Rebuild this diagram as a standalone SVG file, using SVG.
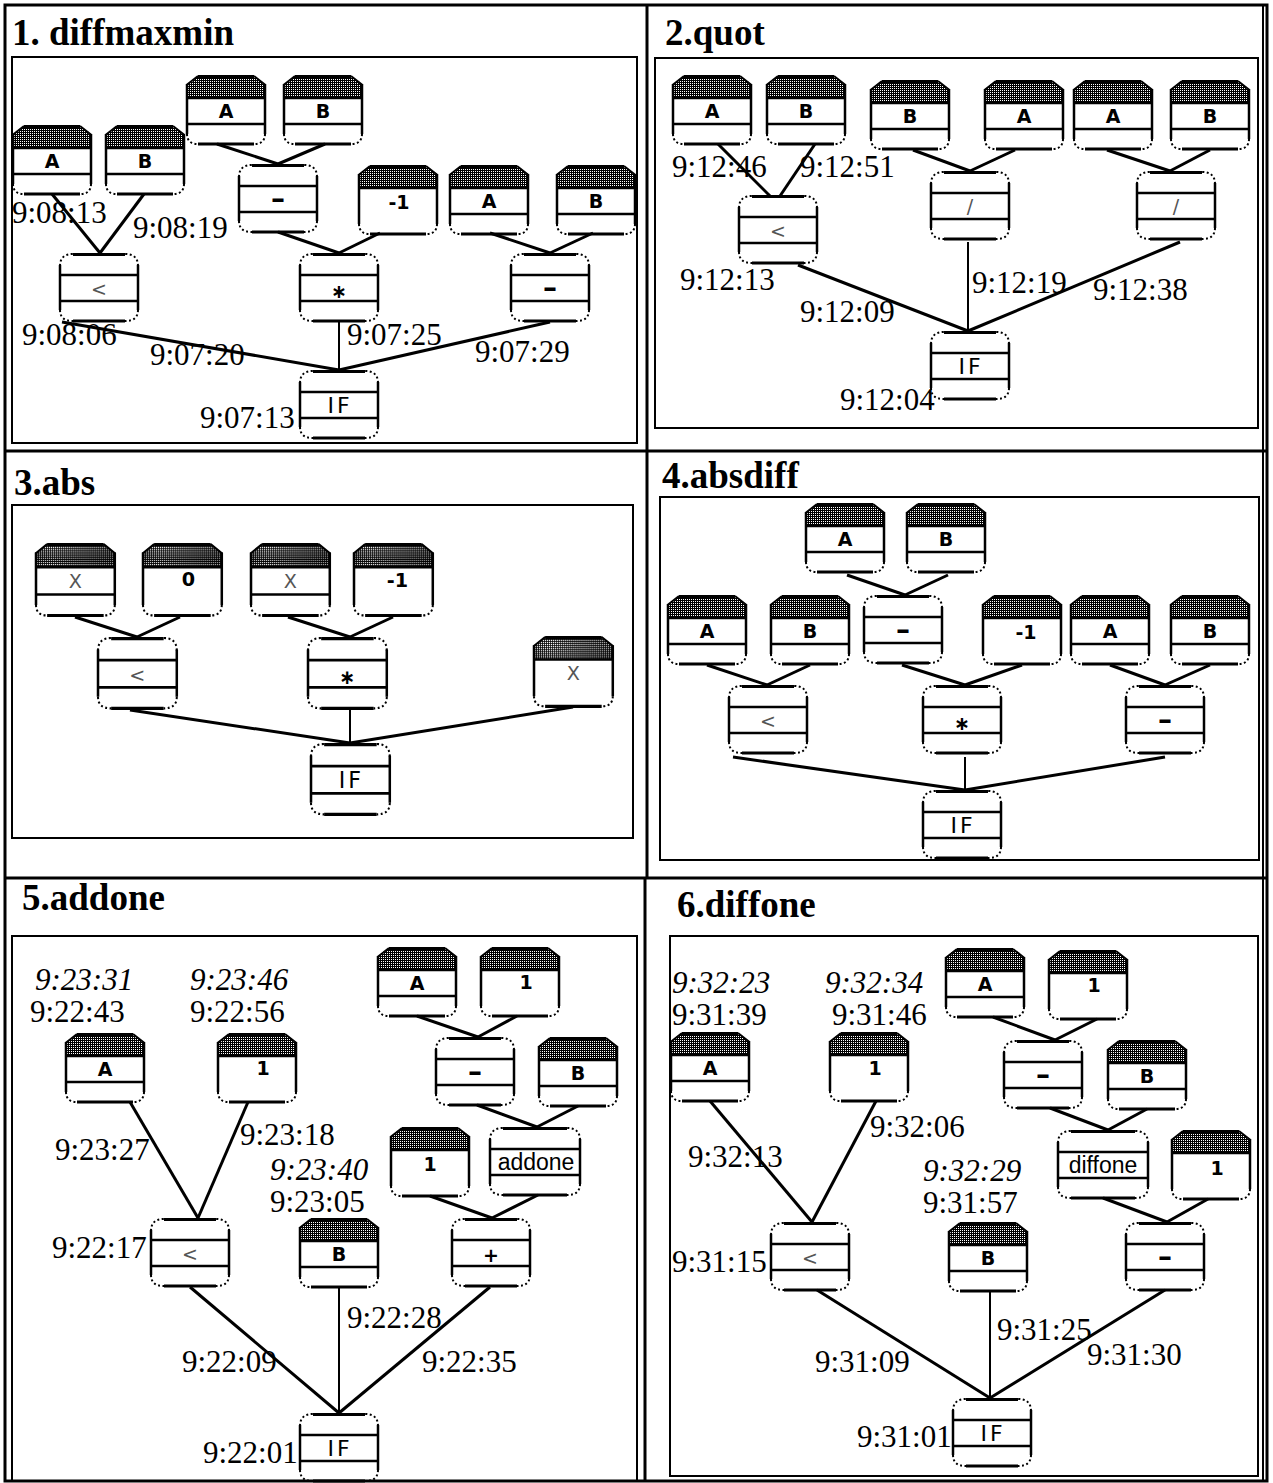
<svg xmlns="http://www.w3.org/2000/svg" xmlns:xlink="http://www.w3.org/1999/xlink" width="1273" height="1483" viewBox="0 0 1273 1483">
<style>
.s{stroke:#000;fill:none}
.c{stroke:#000;stroke-width:3;fill:none}
.cv{stroke:#000;stroke-width:2;fill:none}
.ts{font-family:"Liberation Serif",serif;font-size:31px;fill:#000}
.it{font-style:italic}
.ttl{font-family:"Liberation Serif",serif;font-weight:bold;font-size:37px;fill:#000}
.nl{font-family:"DejaVu Sans",sans-serif;font-size:19px;font-weight:bold;text-anchor:middle;fill:#000}
.dot{fill:#555;font-weight:normal}
.mn{font-size:28px}
.big{font-family:"Liberation Sans",sans-serif;font-size:23px;font-weight:normal}
.iff{font-size:22px;font-weight:normal;letter-spacing:3px}
.frame{stroke:#000;stroke-width:3;fill:none}
.box{stroke:#000;stroke-width:2;fill:none}
</style>
<defs>
<pattern id="chk" width="2" height="2" patternUnits="userSpaceOnUse">
<rect width="2" height="2" fill="#000"/><rect width="1" height="1" fill="#fff"/>
</pattern>
<g id="tTopH">
<path d="M12,1 H68 L80,10 V23 H0 V10 Z" fill="url(#chk)"/>
<path class="s" d="M12,1.5 H68" stroke-width="3"/>
<path class="s" d="M12,1 L0.5,10 M68,1 L79.5,10" stroke-width="2"/>
<path class="s" d="M0,23 H80" stroke-width="2.5"/>
<path class="s" d="M1,9 V59 M79,9 V59" stroke-width="2.5"/>
<path class="s" d="M1,59 Q1,69 12,69 M79,59 Q79,69 68,69" stroke-width="2" stroke-dasharray="2 2.5"/>
<path class="s" d="M12,69 H68" stroke-width="3"/>
</g>
<g id="tIn"><use href="#tTopH"/><path class="s" d="M0,49 H80" stroke-width="2.5"/></g>
<g id="tVal"><use href="#tTopH"/></g>
<g id="tOp">
<path class="s" d="M14,1.5 H66" stroke-width="3"/>
<path class="s" d="M1,13 Q1,1 14,1 M79,13 Q79,1 66,1" stroke-width="2" stroke-dasharray="2 2.5"/>
<path class="s" d="M1,12 V57 M79,12 V57" stroke-width="2.5"/>
<path class="s" d="M0,22 H80 M0,48 H80" stroke-width="2.5"/>
<path class="s" d="M1,57 Q1,68 14,68 M79,57 Q79,68 66,68" stroke-width="2" stroke-dasharray="2 2.5"/>
<path class="s" d="M14,68 H66" stroke-width="3"/>
</g>
<g id="tOpW">
<path class="s" d="M14,1.5 H78" stroke-width="3"/>
<path class="s" d="M1,13 Q1,1 14,1 M91,13 Q91,1 78,1" stroke-width="2" stroke-dasharray="2 2.5"/>
<path class="s" d="M1,12 V57 M91,12 V57" stroke-width="2.5"/>
<path class="s" d="M0,22 H92 M0,48 H92" stroke-width="2.5"/>
<path class="s" d="M1,57 Q1,68 14,68 M91,57 Q91,68 78,68" stroke-width="2" stroke-dasharray="2 2.5"/>
<path class="s" d="M14,68 H78" stroke-width="3"/>
</g>
</defs>
<rect width="1273" height="1483" fill="#fff"/>

<g id="frame">
<rect class="frame" x="5" y="5" width="1262" height="1476"/>
<line class="box" x1="1263" y1="5" x2="1263" y2="1481"/>
<line class="frame" x1="5" y1="451" x2="1267" y2="451"/>
<line class="frame" x1="5" y1="878" x2="1267" y2="878"/>
<line class="frame" x1="647" y1="5" x2="647" y2="878"/>
<line class="frame" x1="645" y1="878" x2="645" y2="1481"/>
<rect class="box" x="12" y="57" width="625" height="386"/>
<rect class="box" x="655" y="58" width="603" height="370"/>
<rect class="box" x="12" y="505" width="621" height="333"/>
<rect class="box" x="660" y="497" width="599" height="363"/>
<rect class="box" x="12" y="936" width="625" height="545"/>
<rect class="box" x="670" y="936" width="588" height="540"/>
</g>

<g id="titles">
<text class="ttl" x="12" y="45">1. diffmaxmin</text>
<text class="ttl" x="665" y="45">2.quot</text>
<text class="ttl" x="14" y="495">3.abs</text>
<text class="ttl" x="662" y="488">4.absdiff</text>
<text class="ttl" x="22" y="910">5.addone</text>
<text class="ttl" x="677" y="917">6.diffone</text>
</g>

<g id="connectors">
<line class="c" x1="52" y1="194" x2="100" y2="253"/>
<line class="c" x1="144" y1="194" x2="100" y2="253"/>
<line class="c" x1="217" y1="144" x2="278" y2="164"/>
<line class="c" x1="325" y1="144" x2="278" y2="164"/>
<line class="c" x1="278" y1="232" x2="339" y2="253"/>
<line class="c" x1="380" y1="233" x2="339" y2="253"/>
<line class="c" x1="490" y1="233" x2="550" y2="253"/>
<line class="c" x1="593" y1="233" x2="550" y2="253"/>
<line class="c" x1="62" y1="322" x2="339" y2="370"/>
<line class="cv" x1="339" y1="322" x2="339" y2="370"/>
<line class="c" x1="550" y1="322" x2="339" y2="370"/>

<line class="c" x1="718" y1="144" x2="770" y2="196"/>
<line class="c" x1="815" y1="144" x2="780" y2="196"/>
<line class="c" x1="913" y1="150" x2="970" y2="171"/>
<line class="c" x1="1015" y1="150" x2="970" y2="171"/>
<line class="c" x1="1107" y1="150" x2="1170" y2="171"/>
<line class="c" x1="1210" y1="150" x2="1170" y2="171"/>
<line class="c" x1="798" y1="265" x2="968" y2="331"/>
<line class="cv" x1="968" y1="242" x2="968" y2="331"/>
<line class="c" x1="1180" y1="242" x2="968" y2="331"/>

<line class="c" x1="75" y1="617" x2="137" y2="637"/>
<line class="c" x1="180" y1="617" x2="137" y2="637"/>
<line class="c" x1="288" y1="617" x2="350" y2="637"/>
<line class="c" x1="393" y1="617" x2="350" y2="637"/>
<line class="c" x1="130" y1="710" x2="350" y2="743"/>
<line class="cv" x1="350" y1="710" x2="350" y2="743"/>
<line class="c" x1="573" y1="707" x2="350" y2="743"/>

<line class="c" x1="847" y1="575" x2="905" y2="595"/>
<line class="c" x1="948" y1="575" x2="905" y2="595"/>
<line class="c" x1="707" y1="665" x2="767" y2="685"/>
<line class="c" x1="810" y1="665" x2="767" y2="685"/>
<line class="c" x1="902" y1="665" x2="965" y2="685"/>
<line class="c" x1="1022" y1="665" x2="965" y2="685"/>
<line class="c" x1="1110" y1="665" x2="1165" y2="685"/>
<line class="c" x1="1210" y1="665" x2="1165" y2="685"/>
<line class="c" x1="733" y1="757" x2="965" y2="790"/>
<line class="cv" x1="965" y1="757" x2="965" y2="790"/>
<line class="c" x1="1165" y1="757" x2="965" y2="790"/>

<line class="c" x1="130" y1="1102" x2="198" y2="1218"/>
<line class="c" x1="248" y1="1102" x2="198" y2="1218"/>
<line class="c" x1="417" y1="1016" x2="478" y2="1037"/>
<line class="c" x1="517" y1="1016" x2="478" y2="1037"/>
<line class="c" x1="477" y1="1105" x2="537" y2="1127"/>
<line class="c" x1="578" y1="1106" x2="537" y2="1127"/>
<line class="c" x1="430" y1="1196" x2="492" y2="1218"/>
<line class="c" x1="538" y1="1195" x2="492" y2="1218"/>
<line class="c" x1="190" y1="1287" x2="339" y2="1413"/>
<line class="cv" x1="339" y1="1287" x2="339" y2="1413"/>
<line class="c" x1="490" y1="1287" x2="339" y2="1413"/>

<line class="c" x1="710" y1="1101" x2="812" y2="1222"/>
<line class="c" x1="876" y1="1101" x2="812" y2="1222"/>
<line class="c" x1="993" y1="1017" x2="1055" y2="1040"/>
<line class="c" x1="1097" y1="1019" x2="1055" y2="1040"/>
<line class="c" x1="1050" y1="1108" x2="1108" y2="1130"/>
<line class="c" x1="1147" y1="1109" x2="1108" y2="1130"/>
<line class="c" x1="1103" y1="1198" x2="1167" y2="1222"/>
<line class="c" x1="1208" y1="1199" x2="1167" y2="1222"/>
<line class="c" x1="817" y1="1290" x2="990" y2="1398"/>
<line class="cv" x1="990" y1="1290" x2="990" y2="1398"/>
<line class="c" x1="1165" y1="1290" x2="990" y2="1398"/>
</g>

<g id="p1A1" transform="translate(12,125)"><use href="#tIn"/><text class="nl" x="40" y="43">A</text></g>
<g id="p1B1" transform="translate(105,125)"><use href="#tIn"/><text class="nl" x="40" y="43">B</text></g>
<g id="p1A2" transform="translate(186,75)"><use href="#tIn"/><text class="nl" x="40" y="43">A</text></g>
<g id="p1B2" transform="translate(283,75)"><use href="#tIn"/><text class="nl" x="40" y="43">B</text></g>
<g id="p1sub1" transform="translate(238,164)"><use href="#tOp"/><text class="nl mn" x="40" y="44">–</text></g>
<g id="p1m1" transform="translate(358,165)"><use href="#tVal"/><text class="nl" x="41" y="44">-1</text></g>
<g id="p1A3" transform="translate(449,165)"><use href="#tIn"/><text class="nl" x="40" y="43">A</text></g>
<g id="p1B3" transform="translate(556,165)"><use href="#tIn"/><text class="nl" x="40" y="43">B</text></g>
<g id="p1lt" transform="translate(59,253)"><use href="#tOp"/><text class="nl dot" x="40" y="43" font-size="22">&lt;</text></g>
<g id="p1mul" transform="translate(299,253)"><use href="#tOp"/><text class="nl" x="40" y="45" font-size="24">∗</text></g>
<g id="p1sub2" transform="translate(510,253)"><use href="#tOp"/><text class="nl mn" x="40" y="44">–</text></g>
<g id="p1if" transform="translate(299,370)"><use href="#tOp"/><text class="nl iff" x="41" y="43">IF</text></g>

<g id="p2A1" transform="translate(672,75)"><use href="#tIn"/><text class="nl" x="40" y="43">A</text></g>
<g id="p2B1" transform="translate(766,75)"><use href="#tIn"/><text class="nl" x="40" y="43">B</text></g>
<g id="p2B2" transform="translate(870,80)"><use href="#tIn"/><text class="nl" x="40" y="43">B</text></g>
<g id="p2A2" transform="translate(984,80)"><use href="#tIn"/><text class="nl" x="40" y="43">A</text></g>
<g id="p2A3" transform="translate(1073,80)"><use href="#tIn"/><text class="nl" x="40" y="43">A</text></g>
<g id="p2B3" transform="translate(1170,80)"><use href="#tIn"/><text class="nl" x="40" y="43">B</text></g>
<g id="p2lt" transform="translate(738,195)"><use href="#tOp"/><text class="nl dot" x="40" y="43" font-size="22">&lt;</text></g>
<g id="p2d1" transform="translate(930,171)"><use href="#tOp"/><text class="nl dot" x="40" y="42">/</text></g>
<g id="p2d2" transform="translate(1136,171)"><use href="#tOp"/><text class="nl dot" x="40" y="42">/</text></g>
<g id="p2if" transform="translate(930,331)"><use href="#tOp"/><text class="nl iff" x="41" y="43">IF</text></g>

<g id="p3X1" transform="translate(35,543) scale(1.01,1.05)"><use href="#tIn"/><text class="nl dot" x="40" y="43">X</text></g>
<g id="p3z" transform="translate(142,543) scale(1.01,1.05)"><use href="#tVal"/><text class="nl" x="46" y="41">0</text></g>
<g id="p3X2" transform="translate(250,543) scale(1.01,1.05)"><use href="#tIn"/><text class="nl dot" x="40" y="43">X</text></g>
<g id="p3m1" transform="translate(353,543) scale(1.01,1.05)"><use href="#tVal"/><text class="nl" x="44" y="42">-1</text></g>
<g id="p3lt" transform="translate(97,637) scale(1.01,1.05)"><use href="#tOp"/><text class="nl dot" x="40" y="43" font-size="22">&lt;</text></g>
<g id="p3mul" transform="translate(307,637) scale(1.01,1.05)"><use href="#tOp"/><text class="nl" x="40" y="45" font-size="24">∗</text></g>
<g id="p3X3" transform="translate(533,636) scale(1.01,1.02)"><use href="#tVal"/><text class="nl dot" x="40" y="43">X</text></g>
<g id="p3if" transform="translate(310,743) scale(1.01,1.05)"><use href="#tOp"/><text class="nl iff" x="41" y="43">IF</text></g>

<g id="p4A1" transform="translate(805,503)"><use href="#tIn"/><text class="nl" x="40" y="43">A</text></g>
<g id="p4B1" transform="translate(906,503)"><use href="#tIn"/><text class="nl" x="40" y="43">B</text></g>
<g id="p4A2" transform="translate(667,595)"><use href="#tIn"/><text class="nl" x="40" y="43">A</text></g>
<g id="p4B2" transform="translate(770,595)"><use href="#tIn"/><text class="nl" x="40" y="43">B</text></g>
<g id="p4sub1" transform="translate(863,595)"><use href="#tOp"/><text class="nl mn" x="40" y="44">–</text></g>
<g id="p4m1" transform="translate(982,595)"><use href="#tVal"/><text class="nl" x="44" y="44">-1</text></g>
<g id="p4A3" transform="translate(1070,595)"><use href="#tIn"/><text class="nl" x="40" y="43">A</text></g>
<g id="p4B3" transform="translate(1170,595)"><use href="#tIn"/><text class="nl" x="40" y="43">B</text></g>
<g id="p4lt" transform="translate(728,685)"><use href="#tOp"/><text class="nl dot" x="40" y="43" font-size="22">&lt;</text></g>
<g id="p4mul" transform="translate(922,685)"><use href="#tOp"/><text class="nl" x="40" y="45" font-size="24">∗</text></g>
<g id="p4sub2" transform="translate(1125,685)"><use href="#tOp"/><text class="nl mn" x="40" y="44">–</text></g>
<g id="p4if" transform="translate(922,790)"><use href="#tOp"/><text class="nl iff" x="41" y="43">IF</text></g>

<g id="p5A1" transform="translate(65,1033)"><use href="#tIn"/><text class="nl" x="40" y="43">A</text></g>
<g id="p5one1" transform="translate(217,1033)"><use href="#tVal"/><text class="nl" x="46" y="42">1</text></g>
<g id="p5A2" transform="translate(377,947)"><use href="#tIn"/><text class="nl" x="40" y="43">A</text></g>
<g id="p5one2" transform="translate(480,947)"><use href="#tVal"/><text class="nl" x="46" y="42">1</text></g>
<g id="p5sub" transform="translate(435,1037)"><use href="#tOp"/><text class="nl mn" x="40" y="44">–</text></g>
<g id="p5B1" transform="translate(538,1037)"><use href="#tIn"/><text class="nl" x="40" y="43">B</text></g>
<g id="p5one3" transform="translate(390,1127)"><use href="#tVal"/><text class="nl" x="40" y="44">1</text></g>
<g id="p5add" transform="translate(489,1127)"><use href="#tOpW"/><text class="nl big" x="47" y="43">addone</text></g>
<g id="p5lt" transform="translate(150,1218)"><use href="#tOp"/><text class="nl dot" x="40" y="43" font-size="22">&lt;</text></g>
<g id="p5B2" transform="translate(299,1218)"><use href="#tIn"/><text class="nl" x="40" y="43">B</text></g>
<g id="p5plus" transform="translate(451,1218)"><use href="#tOp"/><text class="nl" x="40" y="44" font-size="26">+</text></g>
<g id="p5if" transform="translate(299,1413)"><use href="#tOp"/><text class="nl iff" x="41" y="43">IF</text></g>

<g id="p6A1" transform="translate(670,1032)"><use href="#tIn"/><text class="nl" x="40" y="43">A</text></g>
<g id="p6one1" transform="translate(829,1032)"><use href="#tVal"/><text class="nl" x="46" y="43">1</text></g>
<g id="p6A2" transform="translate(945,948)"><use href="#tIn"/><text class="nl" x="40" y="43">A</text></g>
<g id="p6one2" transform="translate(1048,950)"><use href="#tVal"/><text class="nl" x="46" y="42">1</text></g>
<g id="p6sub1" transform="translate(1003,1040)"><use href="#tOp"/><text class="nl mn" x="40" y="44">–</text></g>
<g id="p6B1" transform="translate(1107,1040)"><use href="#tIn"/><text class="nl" x="40" y="43">B</text></g>
<g id="p6dif" transform="translate(1057,1130)"><use href="#tOpW"/><text class="nl big" x="46" y="43">diffone</text></g>
<g id="p6one3" transform="translate(1171,1130)"><use href="#tVal"/><text class="nl" x="46" y="45">1</text></g>
<g id="p6lt" transform="translate(770,1222)"><use href="#tOp"/><text class="nl dot" x="40" y="43" font-size="22">&lt;</text></g>
<g id="p6B2" transform="translate(948,1222)"><use href="#tIn"/><text class="nl" x="40" y="43">B</text></g>
<g id="p6sub2" transform="translate(1125,1222)"><use href="#tOp"/><text class="nl mn" x="40" y="44">–</text></g>
<g id="p6if" transform="translate(952,1398)"><use href="#tOp"/><text class="nl iff" x="41" y="43">IF</text></g>

<g id="timestamps">
<text class="ts" x="12" y="223">9:08:13</text>
<text class="ts" x="133" y="238">9:08:19</text>
<text class="ts" x="22" y="345">9:08:06</text>
<text class="ts" x="150" y="365">9:07:20</text>
<text class="ts" x="347" y="345">9:07:25</text>
<text class="ts" x="475" y="362">9:07:29</text>
<text class="ts" x="200" y="428">9:07:13</text>

<text class="ts" x="672" y="177">9:12:46</text>
<text class="ts" x="800" y="177">9:12:51</text>
<text class="ts" x="680" y="290">9:12:13</text>
<text class="ts" x="800" y="322">9:12:09</text>
<text class="ts" x="972" y="293">9:12:19</text>
<text class="ts" x="1093" y="300">9:12:38</text>
<text class="ts" x="840" y="410">9:12:04</text>

<text class="ts it" x="35" y="990">9:23:31</text>
<text class="ts" x="30" y="1022">9:22:43</text>
<text class="ts it" x="190" y="990">9:23:46</text>
<text class="ts" x="190" y="1022">9:22:56</text>
<text class="ts" x="55" y="1160">9:23:27</text>
<text class="ts" x="240" y="1145">9:23:18</text>
<text class="ts it" x="270" y="1180">9:23:40</text>
<text class="ts" x="270" y="1212">9:23:05</text>
<text class="ts" x="52" y="1258">9:22:17</text>
<text class="ts" x="347" y="1328">9:22:28</text>
<text class="ts" x="182" y="1372">9:22:09</text>
<text class="ts" x="422" y="1372">9:22:35</text>
<text class="ts" x="203" y="1463">9:22:01</text>

<text class="ts it" x="672" y="993">9:32:23</text>
<text class="ts" x="672" y="1025">9:31:39</text>
<text class="ts it" x="825" y="993">9:32:34</text>
<text class="ts" x="832" y="1025">9:31:46</text>
<text class="ts" x="688" y="1167">9:32:13</text>
<text class="ts" x="870" y="1137">9:32:06</text>
<text class="ts it" x="923" y="1181">9:32:29</text>
<text class="ts" x="923" y="1213">9:31:57</text>
<text class="ts" x="672" y="1272">9:31:15</text>
<text class="ts" x="997" y="1340">9:31:25</text>
<text class="ts" x="815" y="1372">9:31:09</text>
<text class="ts" x="1087" y="1365">9:31:30</text>
<text class="ts" x="857" y="1447">9:31:01</text>
</g>
</svg>
